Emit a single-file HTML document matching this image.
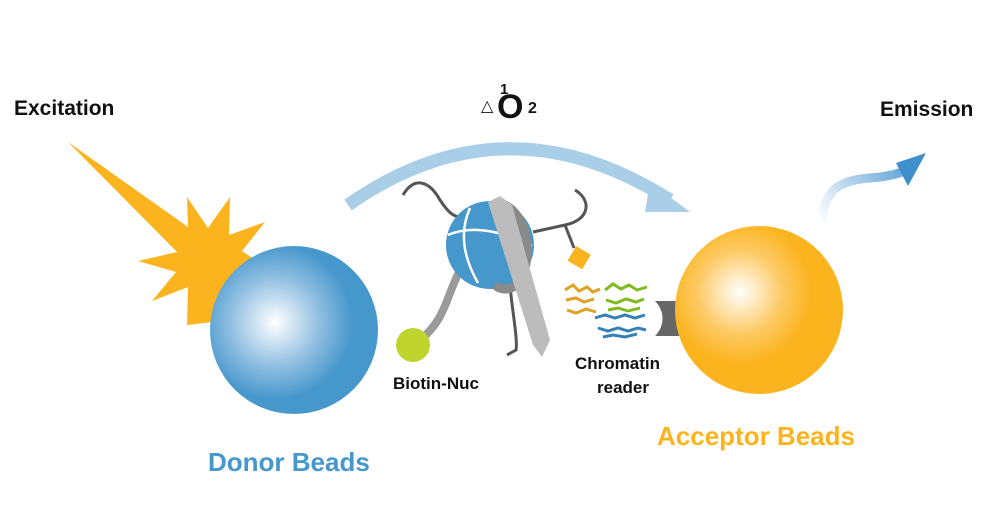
<!DOCTYPE html>
<html><head><meta charset="utf-8"><style>
html,body{margin:0;padding:0;background:#fff;}
svg{display:block;}
text{font-family:"Liberation Sans",sans-serif;font-weight:bold;}
</style></head><body>
<svg width="1000" height="531" viewBox="0 0 1000 531" xmlns="http://www.w3.org/2000/svg">
<defs>
<radialGradient id="gb" cx="275" cy="322" r="92" gradientUnits="userSpaceOnUse">
<stop offset="0" stop-color="#ffffff"/><stop offset="0.5" stop-color="#8dbde0"/><stop offset="0.85" stop-color="#4597cc"/><stop offset="1" stop-color="#4597cc"/></radialGradient>
<radialGradient id="go" cx="740" cy="292" r="95" gradientUnits="userSpaceOnUse">
<stop offset="0" stop-color="#ffffff"/><stop offset="0.45" stop-color="#fcc962"/><stop offset="0.75" stop-color="#fbb41e"/><stop offset="1" stop-color="#fbb41e"/></radialGradient>
<linearGradient id="ge" x1="822" y1="225" x2="925" y2="155" gradientUnits="userSpaceOnUse">
<stop offset="0" stop-color="#ffffff"/><stop offset="0.5" stop-color="#9cc6e6"/><stop offset="1" stop-color="#3e8fcc"/></linearGradient>
</defs>

<text x="14" y="115" font-size="21" fill="#111">Excitation</text>
<text x="880" y="116" font-size="21" fill="#111">Emission</text>
<text x="481" y="111" font-size="16" fill="#111" style="font-weight:normal">△</text>
<text x="500" y="94" font-size="15" fill="#111">1</text>
<text x="497" y="118" font-size="34" fill="#111">O</text>
<text x="528" y="113" font-size="16" fill="#111">2</text>

<path d="M348,205 Q505,95 670,200" fill="none" stroke="#a9cfe8" stroke-width="13"/>
<polygon points="650,182 690,212 645,212" fill="#a9cfe8"/>

<polygon points="68,142 188,227 187,197 208,228 230,197 229,235 265,222 242,251 270,270 240,285 230,320 187,325 188,287 152,301 176,272 138,261 177,252" fill="#fbb41e"/>
<circle cx="294" cy="330" r="84" fill="url(#gb)"/>

<path d="M822,225 C822,190 840,180 870,178 C895,176 905,172 912,165" fill="none" stroke="url(#ge)" stroke-width="9"/>
<polygon points="896,163 926,153 908,186" fill="#3e8fcc"/>

<path d="M403,195 C415,175 430,182 440,200 C448,212 452,215 458,217" fill="none" stroke="#555" stroke-width="3"/>
<path d="M533,232 L565,225 C590,220 592,200 575,190" fill="none" stroke="#555" stroke-width="3"/>
<path d="M565,225 L574,248" fill="none" stroke="#555" stroke-width="3"/>
<rect x="571" y="249" width="17" height="17" fill="#fbb41e" transform="rotate(30 579 257)"/>
<path d="M510,285 C512,310 518,340 516,350 L507,355" fill="none" stroke="#555" stroke-width="3"/>
<path d="M460,270 C445,300 445,320 420,340" fill="none" stroke="#9a9a9a" stroke-width="8"/>
<circle cx="413" cy="345" r="17" fill="#c0d42e"/>
<circle cx="490" cy="245" r="44" fill="#4597cc"/>
<path d="M448,235 C470,225 500,230 532,246" fill="none" stroke="#fff" stroke-width="2.5"/>
<path d="M470,208 C460,230 462,255 478,283" fill="none" stroke="#fff" stroke-width="2.5"/>
<path d="M505,205 C525,215 535,250 520,282 C510,292 500,290 495,285" fill="none" stroke="#8a8a8a" stroke-width="9"/>
<polygon points="488,202 500,196 512,205 550,340 542,357 533,345" fill="#bcbcbc"/>

<g stroke-width="3" fill="none">
<path d="M565,290 l8,-5 l6,6 l8,-4 l6,5 l7,-3 M566,300 l10,-2 l8,4 l10,-3 M567,310 l9,3 l10,-4 l10,3" stroke="#e0a020"/>
<path d="M605,290 l8,-6 l8,5 l8,-4 l8,5 l10,-3 M606,300 l10,3 l10,-4 l10,3 l8,-3 M608,310 l10,-2 l10,3 l12,-3" stroke="#7dbb1f"/>
<path d="M595,318 l10,-3 l10,3 l10,-3 l10,3 l10,-3 M598,328 l10,3 l10,-3 l10,3 l10,-3 l8,2 M603,337 l10,-2 l12,2 l12,-3" stroke="#3680b8"/>
</g>
<path d="M655,301 L680,301 L680,336 L655,336 C665,326 665,311 655,301 Z" fill="#666"/>
<circle cx="759" cy="310" r="84" fill="url(#go)"/>

<text x="393" y="389" font-size="17" fill="#111">Biotin-Nuc</text>
<text x="575" y="369" font-size="17" fill="#111">Chromatin</text>
<text x="597" y="393" font-size="17" fill="#111">reader</text>
<text x="208" y="471" font-size="26" fill="#4597cc">Donor Beads</text>
<text x="657" y="445" font-size="26" fill="#fbb41e">Acceptor Beads</text>
</svg>
</body></html>
